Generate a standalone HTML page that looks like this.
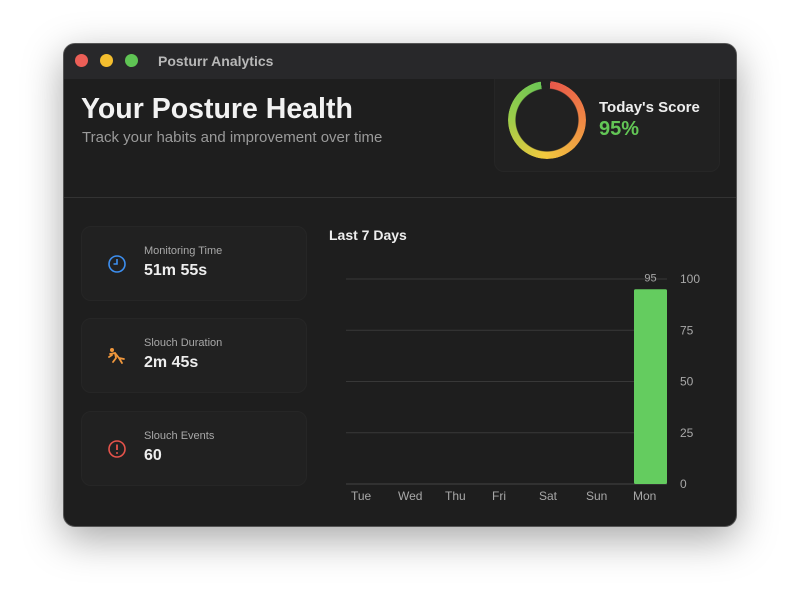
<!DOCTYPE html>
<html><head><meta charset="utf-8"><style>
*{margin:0;padding:0;box-sizing:border-box}
body{width:800px;height:611px;background:#fff;font-family:"Liberation Sans",sans-serif;position:relative;overflow:hidden}
.win{position:absolute;left:63px;top:43px;width:674px;height:484px;border-radius:12px;background:#1e1e1e;box-shadow:0 12px 40px rgba(0,0,0,.35);overflow:hidden;border:1px solid #555}
.tb{position:absolute;left:0;top:0;width:100%;height:35px;background:#28282a}
.dot{position:absolute;top:10px;width:13px;height:13px;border-radius:50%}
.abs{position:absolute}
.card{position:absolute;background:#212121;border-radius:10px;border:1px solid #262626}
.lbl{color:#a8a8a8;font-size:11px}
.val{color:#eee;font-size:16px;font-weight:bold}
</style></head><body>
<div class="win">
 <div class="card" style="left:430px;top:20px;width:226px;height:108px"></div>
 <div class="tb">
  <div class="dot" style="left:11px;background:#ec5f57"></div>
  <div class="dot" style="left:36px;background:#f4be2e"></div>
  <div class="dot" style="left:61px;background:#5fc454"></div>
  <div class="abs" style="left:94px;top:9px;color:#b8b8b8;font-size:14px;font-weight:bold">Posturr Analytics</div>
 </div>
 <div class="abs" style="left:17px;top:49px;color:#f2f2f2;font-size:28.5px;font-weight:bold">Your Posture Health</div>
 <div class="abs" style="left:18px;top:85px;color:#9a9a9a;font-size:15px">Track your habits and improvement over time</div>
 <div class="abs" style="left:444px;top:37px;width:78px;height:78px;border-radius:50%;background:conic-gradient(from 5deg,#e8574a,#f08a44 25%,#f1c93e 50%,#9acd4a 75%,#6cc655 96%,transparent 96%);-webkit-mask:radial-gradient(circle,transparent 31px,#000 32px);mask:radial-gradient(circle,transparent 31px,#000 32px)"></div>
 <div class="abs" style="left:535px;top:55px;color:#eee;font-size:15px;font-weight:bold">Today's Score</div>
 <div class="abs" style="left:535px;top:74px;color:#63c656;font-size:20px;font-weight:bold">95%</div>
 <div class="abs" style="left:0;top:153px;width:100%;height:1px;background:#333"></div>

 <div class="card" style="left:17px;top:182px;width:226px;height:75px">
  <svg class="abs" style="left:25px;top:27px" width="20" height="20"><circle cx="10" cy="10" r="8" fill="none" stroke="#3d8ff0" stroke-width="1.6"/><path d="M10 5V10H6.5" fill="none" stroke="#3d8ff0" stroke-width="1.6"/></svg>
  <div class="abs lbl" style="left:62px;top:18px">Monitoring Time</div>
  <div class="abs val" style="left:62px;top:35px">51m 55s</div>
 </div>
 <div class="card" style="left:17px;top:274px;width:226px;height:75px">
  <svg class="abs" style="left:25px;top:27px" width="20" height="20"><circle cx="5" cy="4" r="2" fill="#f0973c"/><path d="M3 8L8 7L12 12L17 13M8 7L9 12L6 16M12 12L15 17M2 11L5 9" fill="none" stroke="#f0973c" stroke-width="1.8" stroke-linecap="round"/></svg>
  <div class="abs lbl" style="left:62px;top:18px">Slouch Duration</div>
  <div class="abs val" style="left:62px;top:35px">2m 45s</div>
 </div>
 <div class="card" style="left:17px;top:367px;width:226px;height:75px">
  <svg class="abs" style="left:25px;top:27px" width="20" height="20"><circle cx="10" cy="10" r="8" fill="none" stroke="#e5534b" stroke-width="1.6"/><path d="M10 5.5V11" stroke="#e5534b" stroke-width="1.8"/><circle cx="10" cy="14" r="1" fill="#e5534b"/></svg>
  <div class="abs lbl" style="left:62px;top:18px">Slouch Events</div>
  <div class="abs val" style="left:62px;top:35px">60</div>
 </div>

 <div class="abs" style="left:265px;top:183px;color:#eee;font-size:14px;font-weight:bold">Last 7 Days</div>
 <svg id="chart" class="abs" style="left:0;top:0" width="674" height="484"></svg>
</div>
<script>
const days=["Tue","Wed","Thu","Fri","Sat","Sun","Mon"];
const scores=[0,0,0,0,0,0,95];
const yTicks=[0,25,50,75,100];
const svg=document.getElementById('chart');
const NS='http://www.w3.org/2000/svg';
const x0=282,x1=603,yTop=235,yBot=440,step=47;
const y=v=>yBot-(v/100)*(yBot-yTop);
const bx=i=>x0+i*step;
function mk(t,a){const e=document.createElementNS(NS,t);for(const k in a)e.setAttribute(k,a[k]);svg.appendChild(e);return e;}
yTicks.forEach(t=>{
 const l=mk('line',{x1:x0,x2:x1,y1:y(t),y2:y(t),stroke:t===0?'#444':'#383838','stroke-width':1});
 
 
 const tx=mk('text',{x:x1+13,y:y(t)+4,fill:'#a8a8a8','font-size':12,'font-family':'Liberation Sans, sans-serif'});
 tx.textContent=t;
 
 
});
days.forEach((d,i)=>{
 const tx=mk('text',{x:bx(i)+5,y:yBot+16,fill:'#a8a8a8','font-size':12,'font-family':'Liberation Sans, sans-serif'});
 tx.textContent=d;
 
 
 const v=scores[i];
 if(v>0){
  const r=mk('rect',{x:bx(i)+6,y:y(v),width:33,height:yBot-y(v),fill:'#64cc5f',rx:1.5});
  
  
  const vl=mk('text',{x:bx(i)+22.5,y:y(v)-8,fill:'#a8a8a8','font-size':11,'text-anchor':'middle','font-family':'Liberation Sans, sans-serif'});
  vl.textContent=v;
  
  
 }
});
</script>
</body></html>
